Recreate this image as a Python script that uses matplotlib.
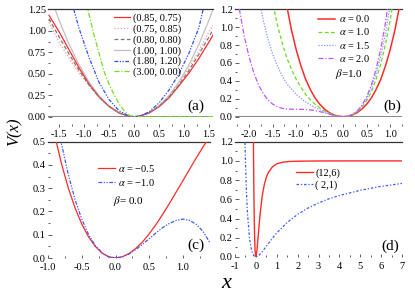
import matplotlib
matplotlib.use("Agg")
import matplotlib.pyplot as plt
from matplotlib.ticker import MultipleLocator

plt.rcParams['font.family'] = ['Liberation Serif', 'DejaVu Serif']
plt.rcParams['mathtext.fontset'] = 'stix'
plt.rcParams['axes.unicode_minus'] = False

# ---------------- panel (a) ----------------
xa = [-1.7, -1.5, -1.3, -1.1, -0.9, -0.7, -0.5, -0.3, -0.1, 0.0, 0.1, 0.3, 0.5, 0.7, 0.9, 1.1, 1.3, 1.5, 1.6]
va_085_075 = [1.18, 0.99, 0.78, 0.57, 0.38, 0.23, 0.12, 0.044, 0.005, 0.0, 0.005, 0.042, 0.115, 0.22, 0.36, 0.51, 0.68, 0.87, 0.97]
va_075_085 = [1.10, 0.87, 0.68, 0.51, 0.36, 0.225, 0.118, 0.043, 0.005, 0.0, 0.005, 0.045, 0.122, 0.235, 0.39, 0.57, 0.77, 0.99, 1.08]
va_080_080 = [1.14, 0.93, 0.73, 0.54, 0.37, 0.228, 0.12, 0.044, 0.005, 0.0, 0.005, 0.044, 0.12, 0.228, 0.37, 0.54, 0.73, 0.93, 1.03]
va_100_100 = [1.45, 1.125, 0.845, 0.605, 0.405, 0.245, 0.125, 0.045, 0.005, 0.0, 0.005, 0.045, 0.125, 0.245, 0.405, 0.605, 0.845, 1.125, 1.28]
xa_b = [-1.3, -1.1, -0.9, -0.7, -0.5, -0.3, -0.1, 0.0, 0.1, 0.3, 0.5, 0.7, 0.9, 1.1, 1.3, 1.5]
va_180_120 = [1.45, 1.03, 0.69, 0.40, 0.20, 0.07, 0.008, 0.0, 0.006, 0.055, 0.16, 0.31, 0.50, 0.74, 1.04, 1.55]
xa_g = [-0.95, -0.9, -0.8, -0.7, -0.6, -0.5, -0.4, -0.3, -0.2, -0.1, 0.0, 1.6]
va_300_000 = [1.32, 1.19, 0.95, 0.74, 0.53, 0.38, 0.26, 0.15, 0.07, 0.017, 0.0, 0.0]
labels_a = ['(0.85, 0.75)', '(0.75, 0.85)', '(0.80, 0.80)', '(1.00, 1.00)', '(1.80, 1.20)', '(3.00, 0.00)']

# ---------------- panel (b) ----------------
xb_0 = [-1.3, -1.2, -1.1, -1.0, -0.9, -0.8, -0.7, -0.6, -0.5, -0.4, -0.3, -0.2, -0.1, 0.0,
        0.1, 0.2, 0.3, 0.4, 0.5, 0.6, 0.7, 0.8, 0.9, 1.0, 1.1, 1.2, 1.3]
vb_a00 = [1.56, 1.24, 0.97, 0.75, 0.57, 0.42, 0.305, 0.21, 0.14, 0.086, 0.047, 0.02, 0.005, 0.0,
          0.005, 0.02, 0.047, 0.086, 0.14, 0.21, 0.305, 0.42, 0.57, 0.75, 0.97, 1.24, 1.56]
xb_1 = [-1.6, -1.5, -1.4, -1.3, -1.2, -1.1, -1.0, -0.9, -0.8, -0.7, -0.6, -0.5, -0.4, -0.3, -0.2, -0.1, 0.0,
        0.1, 0.2, 0.3, 0.4, 0.5, 0.6, 0.7, 0.8, 0.9, 1.0, 1.1]
vb_a10 = [1.55, 1.27, 1.03, 0.83, 0.66, 0.53, 0.42, 0.33, 0.25, 0.19, 0.14, 0.10, 0.065, 0.038, 0.018, 0.005, 0.0,
          0.005, 0.023, 0.056, 0.107, 0.18, 0.28, 0.42, 0.59, 0.81, 1.08, 1.42]
xb_15 = [-1.9, -1.8, -1.7, -1.6, -1.5, -1.4, -1.3, -1.2, -1.1, -1.0, -0.9, -0.8, -0.7, -0.6, -0.5, -0.4, -0.3, -0.2, -0.1, 0.0,
         0.1, 0.2, 0.3, 0.4, 0.5, 0.6, 0.7, 0.8, 0.9, 1.0, 1.1]
vb_a15 = [1.63, 1.33, 1.08, 0.87, 0.70, 0.57, 0.46, 0.37, 0.31, 0.25, 0.205, 0.166, 0.134, 0.104, 0.078, 0.054, 0.034, 0.016, 0.0045, 0.0,
          0.0055, 0.024, 0.06, 0.118, 0.203, 0.32, 0.48, 0.68, 0.93, 1.25, 1.64]
xb_2 = [-2.3, -2.2, -2.1, -2.0, -1.9, -1.8, -1.7, -1.6, -1.5, -1.4, -1.3, -1.2, -1.1, -1.0, -0.9, -0.8, -0.7, -0.6, -0.5,
        -0.4, -0.3, -0.2, -0.1, 0.0, 0.1, 0.2, 0.3, 0.4, 0.5, 0.6, 0.7, 0.8, 0.9, 1.0]
vb_a20 = [1.53, 1.18, 0.89, 0.667, 0.49, 0.356, 0.258, 0.187, 0.141, 0.111, 0.094, 0.086, 0.084, 0.083, 0.083, 0.081, 0.076, 0.068, 0.057,
          0.044, 0.029, 0.015, 0.004, 0.0, 0.006, 0.026, 0.065, 0.129, 0.224, 0.356, 0.534, 0.763, 1.055, 1.42]

# ---------------- panel (c) ----------------
xc = [-1.0, -0.9, -0.8, -0.7, -0.6, -0.5, -0.4, -0.3, -0.2, -0.1, 0.0, 0.1, 0.2, 0.3, 0.4, 0.5, 0.6, 0.7, 0.8, 0.9, 1.0, 1.1, 1.2, 1.3, 1.4]
vc_am05 = [0.667, 0.527, 0.405, 0.302, 0.216, 0.146, 0.091, 0.050, 0.021, 0.005, 0.0, 0.005, 0.019, 0.041, 0.069, 0.104, 0.144, 0.188, 0.235, 0.284, 0.333, 0.383, 0.432, 0.479, 0.523]
vc_am10 = [0.833, 0.648, 0.491, 0.359, 0.252, 0.167, 0.101, 0.054, 0.023, 0.005, 0.0, 0.005, 0.017, 0.036, 0.059, 0.083, 0.108, 0.131, 0.149, 0.162, 0.167, 0.161, 0.144, 0.113, 0.065]

# ---------------- panel (d) ----------------
xd_126 = [-0.13, -0.12, -0.11, -0.10, -0.08, -0.06, -0.04, -0.02, 0.0, 0.05, 0.1, 0.15, 0.2, 0.3, 0.4, 0.5, 0.6, 0.8, 1.0, 1.3, 1.6, 2.0, 3.0, 4.0, 7.0]
vd_126 = [1.71, 1.33, 1.02, 0.78, 0.42, 0.20, 0.077, 0.017, 0.0, 0.065, 0.19, 0.32, 0.44, 0.63, 0.75, 0.83, 0.88, 0.94, 0.97, 0.987, 0.994, 0.997, 0.9995, 1.0, 1.0]
xd_21 = [-0.53, -0.5, -0.45, -0.4, -0.3, -0.2, -0.1, 0.0, 0.1, 0.25, 0.5, 0.75, 1.0, 1.5, 2.0, 2.5, 3.0, 3.5, 4.0, 5.0, 6.0, 7.0]
vd_21 = [1.27, 1.0, 0.669, 0.444, 0.184, 0.0625, 0.012, 0.0, 0.008, 0.04, 0.111, 0.184, 0.25, 0.36, 0.444, 0.51, 0.5625, 0.605, 0.64, 0.694, 0.735, 0.766]

W, H = 415.0, 292.0
fig = plt.figure(figsize=(W / 100, H / 100), dpi=100)


def add(l, r, t, b):
    return fig.add_axes([l / W, 1 - b / H, (r - l) / W, (b - t) / H])


TS = 7.5
tickc = '#444444'


def style(ax, top_row):
    for s in ('left', 'right', 'bottom'):
        ax.spines[s].set_visible(False)
    ax.spines['top'].set_color('#333333')
    ax.spines['top'].set_linewidth(0.9)
    ax.tick_params(axis='y', which='both', direction='in', left=True, right=False,
                   labelsize=TS, pad=1.5, color=tickc, width=0.6)
    ax.tick_params(axis='y', which='major', length=3)
    ax.tick_params(axis='y', which='minor', length=1.5)
    if top_row:
        ax.spines['bottom'].set_position(('outward', 5.5))
        ax.tick_params(axis='x', which='both', direction='out', top=False,
                       labelsize=TS, pad=1.8, color=tickc, width=0.6)
        ax.tick_params(axis='x', which='major', length=2.5)
        ax.tick_params(axis='x', which='minor', length=1.2)
    else:
        ax.tick_params(axis='x', which='both', direction='in', top=False,
                       labelsize=TS, pad=3.5, color=tickc, width=0.6)
        ax.tick_params(axis='x', which='major', length=2.5)
        ax.tick_params(axis='x', which='minor', length=1.2)


RED = '#ff2a2a'
lw = 0.9

# (a)
axa = add(48, 213, 9.3, 116.7)
axa.axhline(0, color='#8a8a8a', lw=2.2, zorder=1)
axa.plot(xa, va_085_075, color=RED, lw=lw, label=labels_a[0], zorder=3)
axa.plot(xa, va_075_085, color='#ff9a9a', lw=lw, ls=(0, (1, 1.5)), label=labels_a[1], zorder=3)
axa.plot(xa, va_080_080, color='#777777', lw=lw, ls=(0, (3, 2)), label=labels_a[2], zorder=3)
axa.plot(xa, va_100_100, color='#c0c0c0', lw=lw, label=labels_a[3], zorder=2)
axa.plot(xa_b, va_180_120, color='#2f4dff', lw=lw, ls=(0, (3, 1.2, 1, 1.2, 1, 1.2)), label=labels_a[4], zorder=3)
axa.plot(xa_g, va_300_000, color='#77dd22', lw=lw, ls=(0, (4, 1.5, 1, 1.5)), label=labels_a[5], zorder=3)
axa.set_xlim(-1.72, 1.58)
axa.set_ylim(0, 1.25)
axa.xaxis.set_major_locator(MultipleLocator(0.5))
axa.xaxis.set_minor_locator(MultipleLocator(0.25))
axa.yaxis.set_major_locator(MultipleLocator(0.25))
axa.yaxis.set_minor_locator(MultipleLocator(0.125))
axa.yaxis.set_major_formatter('{x:.2f}')
axa.xaxis.set_major_formatter('{x:.1f}')
style(axa, True)
axa.legend(loc='upper left', bbox_to_anchor=(0.36, 1.02), frameon=False, fontsize=TS,
           handlelength=1.6, handletextpad=0.3, labelspacing=0.12, borderaxespad=0.2)
axa.text(0.895, 0.10, '(a)', transform=axa.transAxes, fontsize=11, ha='center', va='center')

# (b)
axb = add(235, 402, 9.3, 116.7)
axb.axhline(0, color='#8a8a8a', lw=2.2, zorder=1)
axb.plot(xb_0, vb_a00, color=RED, lw=1.1, label=r'$\alpha$ = 0.0', zorder=3)
axb.plot(xb_1, vb_a10, color='#66dd22', lw=lw, ls=(0, (3, 2)), label=r'$\alpha$ = 1.0', zorder=3)
axb.plot(xb_15, vb_a15, color='#8096ff', lw=lw, ls=(0, (1, 1.2)), label=r'$\alpha$ = 1.5', zorder=3)
axb.plot(xb_2, vb_a20, color='#c455ff', lw=lw, ls=(0, (4, 1.5, 1, 1.5)), label=r'$\alpha$ = 2.0', zorder=3)
axb.set_xlim(-2.3, 1.25)
axb.set_ylim(0, 1.2)
axb.xaxis.set_major_locator(MultipleLocator(0.5))
axb.xaxis.set_minor_locator(MultipleLocator(0.25))
axb.yaxis.set_major_locator(MultipleLocator(0.2))
axb.yaxis.set_minor_locator(MultipleLocator(0.1))
axb.yaxis.set_major_formatter('{x:.1f}')
axb.xaxis.set_major_formatter('{x:.1f}')
style(axb, True)
axb.legend(loc='upper left', bbox_to_anchor=(0.46, 1.02), frameon=False, fontsize=TS,
           handlelength=1.6, handletextpad=0.4, labelspacing=0.2, borderaxespad=0.2)
axb.text(0.60, 0.40, r'$\beta$=1.0', transform=axb.transAxes, fontsize=TS + 0.5, ha='left', va='center')
axb.text(0.94, 0.10, '(b)', transform=axb.transAxes, fontsize=11, ha='center', va='center')

# (c)
axc = add(48, 210, 141.7, 258)
axc.plot(xc, vc_am05, color=RED, lw=lw, label=r'$\alpha$ = −0.5', zorder=3)
axc.plot(xc, vc_am10, color='#3d5bff', lw=lw, ls=(0, (3, 1.2, 1, 1.2, 1, 1.2)), label=r'$\alpha$ = −1.0', zorder=3)
axc.set_xlim(-1.0, 1.4)
axc.set_ylim(0, 0.5)
axc.xaxis.set_major_locator(MultipleLocator(0.5))
axc.xaxis.set_minor_locator(MultipleLocator(0.25))
axc.yaxis.set_major_locator(MultipleLocator(0.1))
axc.yaxis.set_minor_locator(MultipleLocator(0.05))
axc.yaxis.set_major_formatter('{x:.1f}')
axc.xaxis.set_major_formatter('{x:.1f}')
style(axc, False)
axc.legend(loc='upper left', bbox_to_anchor=(0.27, 0.87), frameon=False, fontsize=TS,
           handlelength=1.6, handletextpad=0.3, labelspacing=0.25, borderaxespad=0.2)
axc.text(0.40, 0.49, r'$\beta$= 0.0', transform=axc.transAxes, fontsize=TS + 0.5, ha='left', va='center')
axc.text(0.915, 0.11, '(c)', transform=axc.transAxes, fontsize=11, ha='center', va='center')

# (d)
axd = add(235, 402, 141.7, 257)
axd.plot(xd_126, vd_126, color=RED, lw=1.0, label='(12,6)', zorder=3)
axd.plot(xd_21, vd_21, color='#3d5bff', lw=lw, ls=(0, (2, 1.5, 1, 1.5)), label='( 2,1)', zorder=3)
axd.set_xlim(-1, 7)
axd.set_ylim(0, 1.2)
axd.xaxis.set_major_locator(MultipleLocator(1))
axd.xaxis.set_minor_locator(MultipleLocator(0.5))
axd.yaxis.set_major_locator(MultipleLocator(0.2))
axd.yaxis.set_minor_locator(MultipleLocator(0.1))
axd.yaxis.set_major_formatter('{x:.1f}')
axd.xaxis.set_major_formatter('{x:.0f}')
style(axd, False)
axd.legend(loc='upper left', bbox_to_anchor=(0.33, 0.82), frameon=False, fontsize=TS,
           handlelength=1.6, handletextpad=0.2, labelspacing=0.2, borderaxespad=0.2)
axd.text(0.93, 0.09, '(d)', transform=axd.transAxes, fontsize=11, ha='center', va='center')

fig.text(15 / W, 1 - 132 / H, 'V(x)', rotation=90, fontsize=12, fontstyle='italic', ha='center', va='center')
fig.text(226 / W, 1 - 283 / H, 'x', fontsize=16, fontstyle='italic', ha='center', va='center')

fig.savefig('out.png', dpi=100)
